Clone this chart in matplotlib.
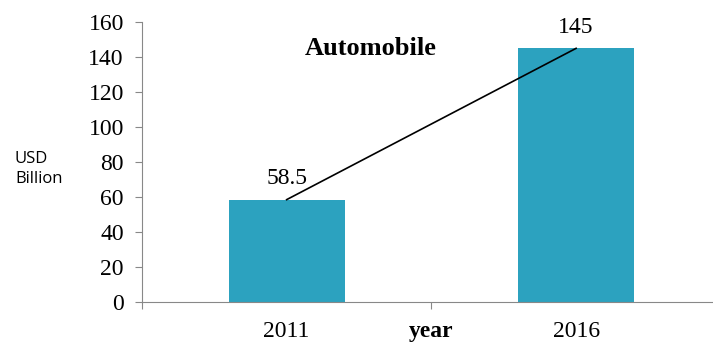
import numpy as np
import matplotlib
matplotlib.use("Agg")
import matplotlib.pyplot as plt

years = ['2011', '2016']
values = [58.5, 145]
yticks = [0, 20, 40, 60, 80, 100, 120, 140, 160]

fig = plt.figure(figsize=(7.13, 3.49), dpi=100)
ax = fig.add_axes([0.199, 0.1347, 0.812, 0.802])

x = np.arange(len(years))
ax.bar(x, values, width=0.4, color='#2CA2BF', zorder=2)
ax.plot(x, values, color='black', lw=1.2, zorder=3)

for xi, v in zip(x, values):
    ax.text(xi, v + 6, f'{v:g}', ha='center', va='bottom',
            family='Liberation Serif', fontsize=17)

ax.set_xlim(-0.5, 1.5)
ax.set_ylim(0, 160)
ax.set_yticks(yticks)
ax.set_yticklabels([str(t) for t in yticks], family='Liberation Serif', fontsize=17)
ax.set_xticks([-0.5, 0.5, 1.5])
ax.set_xticklabels([])
ax.tick_params(axis='y', length=5, color='#888888', pad=8)
ax.tick_params(axis='x', length=5, color='#888888')

for xi, lab in zip(x, years):
    ax.text(xi, -11, lab, ha='center', va='top', family='Liberation Serif',
            fontsize=17, clip_on=False)
ax.text(0.5, -11, 'year', ha='center', va='top', family='Liberation Serif',
        fontsize=17, fontweight='bold', clip_on=False)

ax.text(0.29, 145, 'Automobile', ha='center', va='center',
        family='Liberation Serif', fontsize=19, fontweight='bold')

for s in ['top', 'right']:
    ax.spines[s].set_visible(False)
for s in ['left', 'bottom']:
    ax.spines[s].set_color('#888888')

fig.text(15 / 713, 1 - 169 / 349, 'USD\nBillion', ha='left', va='center',
         family='Open Sans', fontsize=12, linespacing=1.4)

fig.savefig('out.png', dpi=100)
